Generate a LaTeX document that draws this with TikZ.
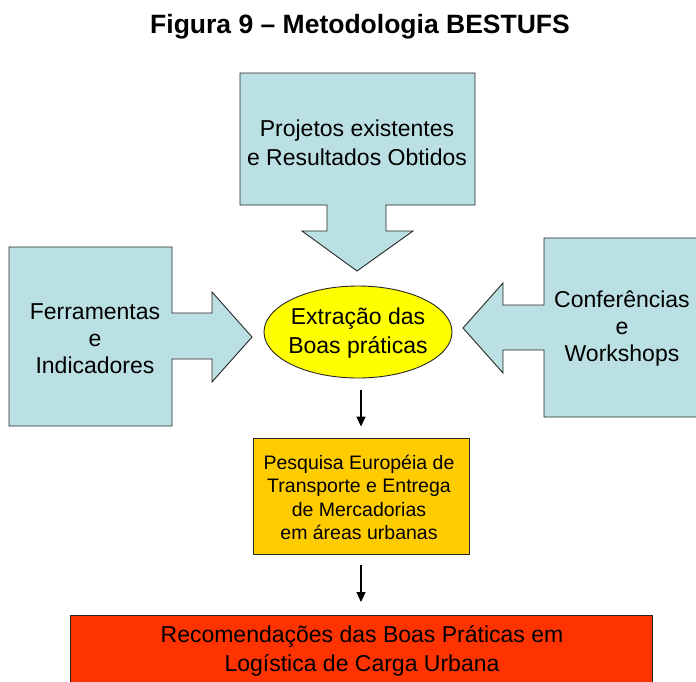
\documentclass[tikz,border=0pt]{standalone}
\usepackage{fontspec}
\setmainfont{Liberation Sans}
\usetikzlibrary{arrows.meta,shapes.geometric}
\definecolor{lblue}{RGB}{187,224,227}
\definecolor{lyellow}{RGB}{255,255,0}
\definecolor{lorange}{RGB}{255,204,0}
\definecolor{lred}{RGB}{255,51,0}
\tikzset{
  callout/.style={draw=black!85,line width=0.9pt,fill=lblue},
  txt/.style={align=center,inner sep=0pt,text=black},
  big/.style={font=\fontsize{23}{29}\selectfont},
  mid/.style={font=\fontsize{23}{27}\selectfont},
  small/.style={font=\fontsize{19.5}{23.6}\selectfont},
  arr/.style={line width=1.2pt,-{Triangle[length=10pt,width=9pt]}}
}
\begin{document}
\begin{tikzpicture}[x=1pt,y=-1pt]
\useasboundingbox (0,0) rectangle (696,681);
% title
\node[txt,font=\fontsize{26.5}{32}\selectfont\bfseries] (title) at (360,27) {Figura 9 – Metodologia BESTUFS};
% top callout
\draw[callout] (240,73) -- (475,73) -- (475,205) -- (386,205) -- (386,231) -- (413,231) -- (357,271) -- (302,231) -- (327,231) -- (327,205) -- (240,205) -- cycle;
\node[txt,big] (top) at (357,142.5) {Projetos existentes\\e Resultados Obtidos};
% left callout
\draw[callout] (9,247) -- (172,247) -- (172,313) -- (212,313) -- (212,292) -- (252,337) -- (212,382) -- (212,359) -- (172,359) -- (172,426) -- (9,426) -- cycle;
\node[txt,mid] (left) at (95,339) {Ferramentas\\e\\Indicadores};
% right callout
\draw[callout] (710,238) -- (544,238) -- (544,305) -- (503,305) -- (503,283) -- (463,328) -- (503,373) -- (503,350) -- (544,350) -- (544,417) -- (710,417) -- cycle;
\node[txt,mid] (right) at (622,329) {Conferências\\e\\Workshops};
% ellipse
\node[ellipse,draw=black!85,line width=0.9pt,fill=lyellow,minimum width=188pt,minimum height=92pt,inner sep=0pt] (ell) at (358,332) {};
\node[txt,big] (elltxt) at (358,333.5) {Extração das\\Boas práticas};
% orange box
\node[draw=black!85,line width=0.9pt,fill=lorange,minimum width=216pt,minimum height=116pt,inner sep=0pt] (ora) at (361,496) {};
\node[txt,small] (oratxt) at (359,497.5) {Pesquisa Européia de\\Transporte e Entrega\\de Mercadorias\\em áreas urbanas};
% red box
\node[draw=black!85,line width=0.9pt,fill=lred,minimum width=582pt,minimum height=90pt,inner sep=0pt,anchor=north] (red) at (361,615) {};
\node[txt,big] (redtxt) at (362,651) {Recomendações das Boas Práticas em\\Logística de Carga Urbana};
% arrows
\draw[arr,shorten <=12pt,shorten >=11pt] (ell.south -| ora.north) -- (ora.north);
\draw[arr,shorten <=11pt,shorten >=13pt] (ora.south) -- (ora.south |- red.north);
\end{tikzpicture}
\end{document}
